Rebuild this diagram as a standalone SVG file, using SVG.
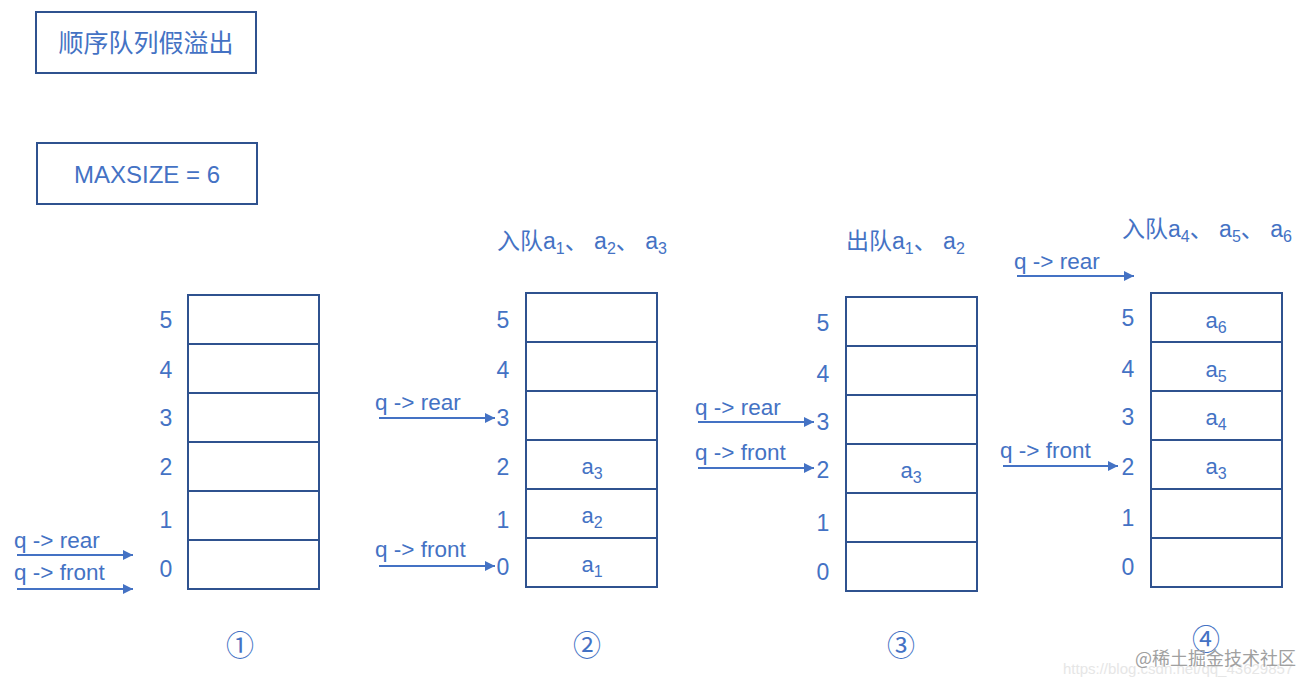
<svg xmlns="http://www.w3.org/2000/svg" width="1315" height="688" viewBox="0 0 1315 688">
<style>
text{font-family:"Liberation Sans","Noto Sans CJK SC",sans-serif;fill:#4472C4}
.box{fill:#fff;stroke:#2F528F;stroke-width:2}
.cell{fill:#fff;stroke:#2F528F;stroke-width:2}
.idx{font-size:23px;text-anchor:middle}
.lbl{font-size:22.5px}
.val{font-size:22px;text-anchor:middle}
.hd{font-size:23px}
.sub{font-size:16px}
.circ{font-size:28px;text-anchor:middle;font-family:"Noto Sans CJK SC",sans-serif}
.arr{stroke:#4472C4;stroke-width:2;fill:none;marker-end:url(#ah)}
</style>
<defs>
<marker id="ah" viewBox="0 0 10 10" refX="10" refY="5" markerWidth="5.5" markerHeight="5" orient="auto" markerUnits="strokeWidth">
<path d="M0,0 L10,5 L0,10 z" fill="#4472C4"/>
</marker>
</defs>
<rect width="1315" height="688" fill="#fff"/>

<g id="title">
<rect class="box" x="36" y="12" width="220" height="61"/>
<text x="146" y="52" font-size="25" text-anchor="middle" style="font-family:'Noto Sans CJK SC',sans-serif">顺序队列假溢出</text>
</g>
<g id="maxsize">
<rect class="box" x="37" y="143" width="220" height="61"/>
<text x="147" y="183" font-size="24" text-anchor="middle">MAXSIZE = 6</text>
</g>

<g id="stack1">
<rect class="cell" x="188" y="295" width="131" height="49"/>
<rect class="cell" x="188" y="344" width="131" height="49"/>
<rect class="cell" x="188" y="393" width="131" height="49"/>
<rect class="cell" x="188" y="442" width="131" height="49"/>
<rect class="cell" x="188" y="491" width="131" height="49"/>
<rect class="cell" x="188" y="540" width="131" height="49"/>
<text class="idx" x="166" y="328">5</text>
<text class="idx" x="166" y="378">4</text>
<text class="idx" x="166" y="426">3</text>
<text class="idx" x="166" y="475">2</text>
<text class="idx" x="166" y="528">1</text>
<text class="idx" x="166" y="577">0</text>
<text class="circ" x="240" y="656">①</text>
</g>

<g id="stack2">
<text class="hd" x="497" y="249">入队a<tspan class="sub" dy="5">1</tspan><tspan dy="-5">、 a</tspan><tspan class="sub" dy="5">2</tspan><tspan dy="-5">、 a</tspan><tspan class="sub" dy="5">3</tspan></text>
<rect class="cell" x="526" y="293" width="131" height="49"/>
<rect class="cell" x="526" y="342" width="131" height="49"/>
<rect class="cell" x="526" y="391" width="131" height="49"/>
<rect class="cell" x="526" y="440" width="131" height="49"/>
<rect class="cell" x="526" y="489" width="131" height="49"/>
<rect class="cell" x="526" y="538" width="131" height="49"/>
<text class="idx" x="503" y="328">5</text>
<text class="idx" x="503" y="378">4</text>
<text class="idx" x="503" y="426">3</text>
<text class="idx" x="503" y="475">2</text>
<text class="idx" x="503" y="528">1</text>
<text class="idx" x="503" y="575">0</text>
<text class="val" x="592" y="474">a<tspan class="sub" dy="5">3</tspan></text>
<text class="val" x="592" y="523">a<tspan class="sub" dy="5">2</tspan></text>
<text class="val" x="592" y="572">a<tspan class="sub" dy="5">1</tspan></text>
<text class="circ" x="587" y="656">②</text>
</g>

<g id="stack3">
<text class="hd" x="846" y="249">出队a<tspan class="sub" dy="5">1</tspan><tspan dy="-5">、 a</tspan><tspan class="sub" dy="5">2</tspan></text>
<rect class="cell" x="846" y="297" width="131" height="49"/>
<rect class="cell" x="846" y="346" width="131" height="49"/>
<rect class="cell" x="846" y="395" width="131" height="49"/>
<rect class="cell" x="846" y="444" width="131" height="49"/>
<rect class="cell" x="846" y="493" width="131" height="49"/>
<rect class="cell" x="846" y="542" width="131" height="49"/>
<text class="idx" x="823" y="331">5</text>
<text class="idx" x="823" y="382">4</text>
<text class="idx" x="823" y="430">3</text>
<text class="idx" x="823" y="478">2</text>
<text class="idx" x="823" y="531">1</text>
<text class="idx" x="823" y="580">0</text>
<text class="val" x="911" y="478">a<tspan class="sub" dy="5">3</tspan></text>
<text class="circ" x="901" y="656">③</text>
</g>

<g id="stack4">
<text class="hd" x="1122" y="237">入队a<tspan class="sub" dy="5">4</tspan><tspan dy="-5">、 a</tspan><tspan class="sub" dy="5">5</tspan><tspan dy="-5">、 a</tspan><tspan class="sub" dy="5">6</tspan></text>
<rect class="cell" x="1151" y="293" width="131" height="49"/>
<rect class="cell" x="1151" y="342" width="131" height="49"/>
<rect class="cell" x="1151" y="391" width="131" height="49"/>
<rect class="cell" x="1151" y="440" width="131" height="49"/>
<rect class="cell" x="1151" y="489" width="131" height="49"/>
<rect class="cell" x="1151" y="538" width="131" height="49"/>
<text class="idx" x="1128" y="326">5</text>
<text class="idx" x="1128" y="377">4</text>
<text class="idx" x="1128" y="425">3</text>
<text class="idx" x="1128" y="475">2</text>
<text class="idx" x="1128" y="526">1</text>
<text class="idx" x="1128" y="575">0</text>
<text class="val" x="1216" y="328">a<tspan class="sub" dy="5">6</tspan></text>
<text class="val" x="1216" y="377">a<tspan class="sub" dy="5">5</tspan></text>
<text class="val" x="1216" y="425">a<tspan class="sub" dy="5">4</tspan></text>
<text class="val" x="1216" y="474">a<tspan class="sub" dy="5">3</tspan></text>
<text class="circ" x="1206" y="650">④</text>
</g>

<g id="pointers">
<text class="lbl" x="14" y="548">q -&gt; rear</text>
<line class="arr" x1="17" y1="555" x2="133" y2="555"/>
<text class="lbl" x="14" y="580">q -&gt; front</text>
<line class="arr" x1="17" y1="589" x2="133" y2="589"/>

<text class="lbl" x="375" y="410">q -&gt; rear</text>
<line class="arr" x1="379" y1="418" x2="495" y2="418"/>
<text class="lbl" x="375" y="557">q -&gt; front</text>
<line class="arr" x1="379" y1="566" x2="495" y2="566"/>

<text class="lbl" x="695" y="415">q -&gt; rear</text>
<line class="arr" x1="698" y1="422" x2="814" y2="422"/>
<text class="lbl" x="695" y="460">q -&gt; front</text>
<line class="arr" x1="698" y1="468" x2="814" y2="468"/>

<text class="lbl" x="1014" y="269">q -&gt; rear</text>
<line class="arr" x1="1017" y1="276" x2="1134" y2="276"/>
<text class="lbl" x="1000" y="458">q -&gt; front</text>
<line class="arr" x1="1003" y1="466" x2="1118" y2="466"/>
</g>

<g id="watermark">
<text x="1063" y="674" font-size="15" style="fill:#e6e6e6">https://blog.csdn.net/qq_43629857</text>
<text x="1135" y="665" font-size="18" style="fill:#a0a0a0;font-family:'Noto Sans CJK SC',sans-serif">@稀土掘金技术社区</text>
</g>
</svg>
